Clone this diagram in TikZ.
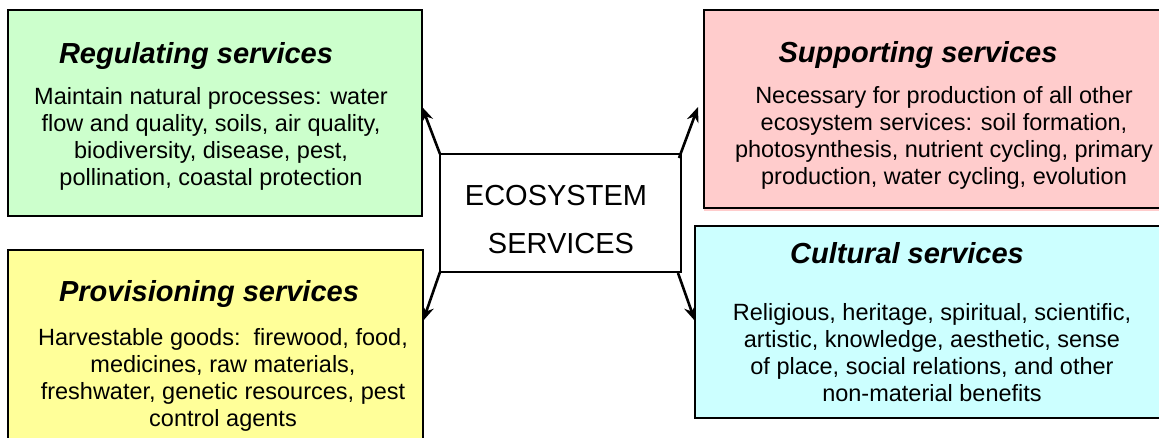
\documentclass[tikz,border=0pt]{standalone}
\usepackage{fontspec}
\setmainfont{Liberation Sans}
\usetikzlibrary{calc,arrows.meta}
\definecolor{regc}{HTML}{CCFFCC}
\definecolor{provc}{HTML}{FFFF99}
\definecolor{supc}{HTML}{FFCCCC}
\definecolor{culc}{HTML}{CCFFFF}
\tikzset{
  svcbox/.style={draw=black, line width=1.8pt, inner sep=0pt, outer sep=0pt, anchor=north west},
  ttl/.style={anchor=base, inner sep=0pt, font=\fontsize{29}{33}\selectfont\bfseries\itshape},
  body/.style={anchor=base, inner sep=0pt, font=\fontsize{23.5}{27}\selectfont},
  ctr/.style={anchor=base, inner sep=0pt, font=\fontsize{29}{33}\selectfont},
  conn/.style={line width=2.6pt, -{Stealth[length=15pt,width=12pt]}}
}
\newcommand{\lines}[1]{\begin{tabular}[t]{@{}c@{}}#1\end{tabular}}
\begin{document}
\begin{tikzpicture}[x=1pt,y=-1pt]
\useasboundingbox (0,0) rectangle (1159,437);
% boxes
\node[svcbox, fill=regc, minimum width=414pt, minimum height=206pt] (reg) at (8,10) {};
\node[svcbox, fill=provc, minimum width=415pt, minimum height=210pt] (prov) at (8,250) {};
\fill[supc] (704,10) rectangle (1180,211);
\node[svcbox, fill=supc, minimum width=476pt, minimum height=198pt] (sup) at (704,10) {};
\node[svcbox, fill=culc, minimum width=485pt, minimum height=192pt] (cul) at (695,226) {};
\node[svcbox, fill=white, minimum width=241pt, minimum height=118pt] (eco) at (440,154) {};
% titles
\node[ttl] (regt) at (196,63) {Regulating services};
\node[ttl] (provt) at (209,301) {Provisioning services};
\node[ttl] (supt) at (918,62) {Supporting services};
\node[ttl] (cult) at (907,263) {Cultural services};
% bodies
\node[body] (regb) at (211,104) {\lines{Maintain natural processes: water\\flow and quality, soils, air quality,\\biodiversity, disease, pest,\\pollination, coastal protection}};
\node[body] (provb) at (223,345) {\lines{Harvestable goods:\ \ firewood, food,\\medicines, raw materials,\\freshwater, genetic resources, pest\\control agents}};
\node[body] (supb) at (944,103) {\lines{Necessary for production of all other\\ecosystem services: soil formation,\\photosynthesis, nutrient cycling, primary\\production, water cycling, evolution}};
\node[body] (culb) at (932,320) {\lines{Religious, heritage, spiritual, scientific,\\artistic, knowledge, aesthetic, sense\\of place, social relations, and other\\non-material benefits}};
% centre text
\node[ctr] (ecot1) at (556,205) {ECOSYSTEM};
\node[ctr] (ecot2) at (561,253) {SERVICES};
% connectors
\coordinate (tr) at (698,107);
\draw[conn] (eco.north west) -- ($(reg.north east)!0.47!(reg.south east)$);
\draw[conn] ($(eco.north east)+(-2,4)$) -- (tr);
\draw[conn] (eco.south west) -- ($(prov.north east)+(0,71)$);
\draw[conn] ($(eco.south east)+(-3,1)$) -- ($(cul.north west)+(0,95)$);
\end{tikzpicture}
\end{document}
